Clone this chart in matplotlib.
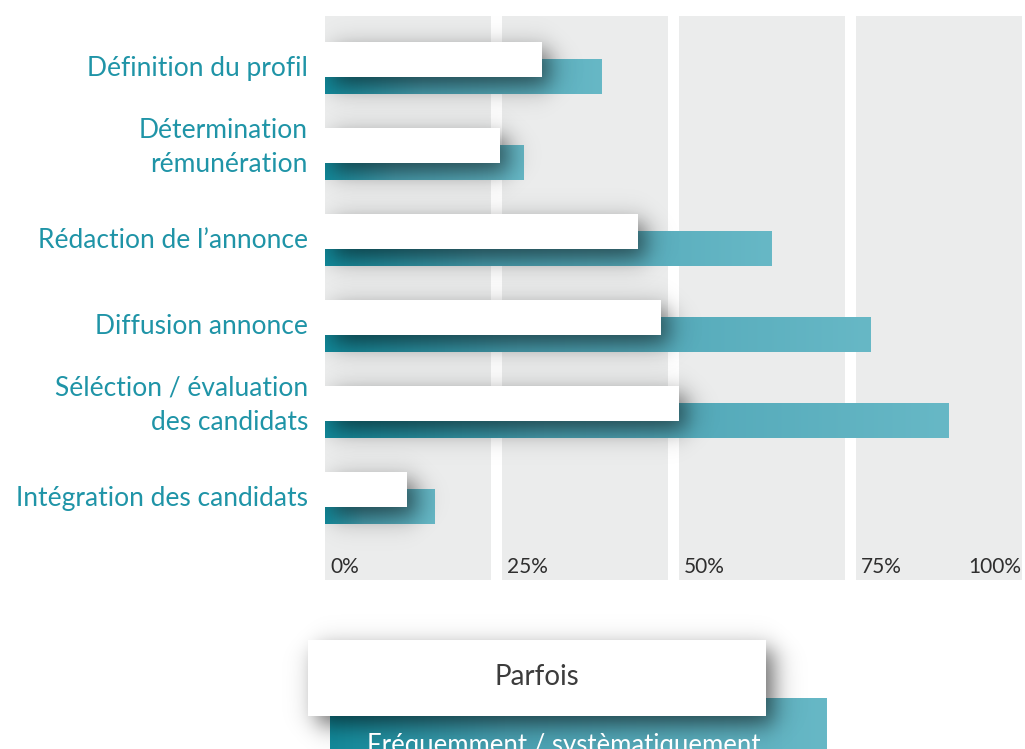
import numpy as np
import matplotlib
matplotlib.use('Agg')
import matplotlib.pyplot as plt
from matplotlib.colors import LinearSegmentedColormap

categories = ['Définition du profil', 'Détermination\nrémunération', 'Rédaction de l’annonce',
              'Diffusion annonce', 'Séléction / évaluation\ndes candidats', 'Intégration des candidats']
parfois = [30.6, 24.7, 44.2, 47.4, 50.0, 11.6]
frequemment = [39.1, 28.1, 63.1, 77.0, 88.0, 15.4]
ticks = [0, 25, 50, 75, 100]
tick_labels = ['0%', '25%', '50%', '75%', '100%']
legend_labels = ['Parfois', 'Fréquemment / systèmatiquement']

W, H = 1025, 749
teal_text = '#1f94a7'
band_col = '#ebecec'
teal_cmap = LinearSegmentedColormap.from_list(
    'teal', [(0, '#128a9b'), (0.35, '#4aa2b3'), (1, '#67b8c6')])

plt.rcParams['font.family'] = ['Lato', 'DejaVu Sans']


def soft_shadow(ax, x0, x1, y0, y1, sx, sy, strength, z):
    # blurred box drawn as an alpha image
    xs = np.linspace(x0 - 3 * sx, x1 + 3 * sx, 400)
    ys = np.linspace(y0 - 3 * sy, y1 + 3 * sy, 160)
    fx = 0.5 * (np.tanh((xs - x0) / sx) - np.tanh((xs - x1) / sx))
    fy = 0.5 * (np.tanh((ys - y0) / sy) - np.tanh((ys - y1) / sy))
    rgba = np.zeros((len(ys), len(xs), 4))
    rgba[..., 3] = strength * np.outer(fy, fx)
    ax.imshow(rgba, extent=(xs[0], xs[-1], ys[0], ys[-1]), origin='lower',
              aspect='auto', interpolation='bilinear', zorder=z)


def gradient_fill(ax, patch, z):
    x0, y0 = patch.get_xy()
    grad = np.linspace(0, 1, 256).reshape(1, -1)
    im = ax.imshow(grad, cmap=teal_cmap, extent=(x0, x0 + patch.get_width(), y0, y0 + patch.get_height()),
                   aspect='auto', interpolation='bilinear', zorder=z)
    im.set_clip_path(patch)


fig = plt.figure(figsize=(W / 100, H / 100), dpi=100)

# main axes: 0% at px 325, 25% every 177 px; plot area from y=16 to y=580
px_x = 7.08
px_y = 86.0
ax = fig.add_axes([325 / W, (H - 580) / H, 708 / W, 564 / H])
top = -0.605
ax.set_xlim(0, 100)
ax.set_ylim(top + 564 / px_y, top)
ax.axis('off')

for t in ticks[:-1]:
    ax.axvspan(t, t + 23.4, color=band_col, zorder=0, lw=0)

y = np.arange(len(categories))
h = 35 / px_y
off = 8.5 / px_y

teal_bars = ax.barh(y + off, frequemment, height=h, color='#128a9b', lw=0, zorder=2)
for b in teal_bars:
    gradient_fill(ax, b, 2.1)

for yi, v in zip(y, parfois):
    soft_shadow(ax, 8 / px_x, v + 8 / px_x, yi - off - h / 2 + 9 / px_y, yi - off + h / 2 + 9 / px_y,
                14 / px_x, 14 / px_y, 0.6, 3)
ax.barh(y - off, parfois, height=h, color='white', lw=0, zorder=4)

for yi, lab in zip(y, categories):
    # two-line labels sit a little higher than the bar pair
    shift = -7 / px_y * lab.count('\n')
    ax.text(-17 / px_x, yi + shift, lab, ha='right', va='center', color=teal_text,
            fontsize=19, linespacing=1.45, clip_on=False)

for t, lab in zip(ticks, tick_labels):
    if t == 100:
        ax.text(98.3, 13 / 564, lab, ha='right', va='center', color='#2e2e2e', fontsize=15,
                transform=ax.get_xaxis_transform())
    else:
        ax.text(t + 0.7, 13 / 564, lab, ha='left', va='center', color='#2e2e2e', fontsize=15,
                transform=ax.get_xaxis_transform())

ax.set_xlim(0, 100)
ax.set_ylim(top + 564 / px_y, top)

# legend in figure pixel coordinates
lax = fig.add_axes([0, 0, 1, 1])
lax.set_xlim(0, W)
lax.set_ylim(H, 0)
lax.axis('off')
teal_box = plt.Rectangle((330, 698), 497, 70, color='#128a9b', lw=0, zorder=2)
lax.add_patch(teal_box)
gradient_fill(lax, teal_box, 2.1)
soft_shadow(lax, 316, 774, 649, 725, 14, 14, 0.6, 3)
lax.add_patch(plt.Rectangle((308, 640), 458, 76, color='white', lw=0, zorder=4))
lax.text(537, 677, legend_labels[0], ha='center', va='center', color='#3c3c3c', fontsize=20, zorder=5)
lax.text(564, 746, legend_labels[1], ha='center', va='center', color='white', fontsize=18.5, zorder=5)
lax.set_xlim(0, W)
lax.set_ylim(H, 0)

fig.savefig('out.png', dpi=100, facecolor='white')
